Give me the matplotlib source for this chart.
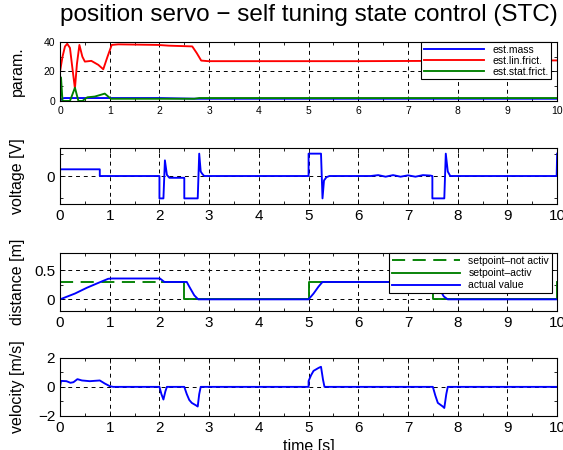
import matplotlib
matplotlib.use("Agg")
import matplotlib.pyplot as plt
from matplotlib.ticker import MultipleLocator, FixedLocator

plt.rcParams['font.family'] = ['Liberation Sans', 'DejaVu Sans']

# ---- data ----
# panel 1: estimated parameters
t_mass = [0.0, 0.05, 0.1, 2.0, 2.8, 10.0]
est_mass = [0.0, 1.8, 2.0, 2.0, 1.5, 1.5]

t_lin = [0.0, 0.05, 0.1, 0.145, 0.2, 0.25, 0.30, 0.34, 0.39, 0.45, 0.5, 0.63, 0.77, 0.87,
         0.955, 1.04, 1.17, 1.97, 2.19, 2.66, 2.75, 2.84, 2.98, 6.0, 10.0]
est_lin = [20.0, 30.0, 37.0, 38.8, 36.0, 22.0, 8.5, 25.0, 38.0, 30.0, 26.7, 27.2, 24.5, 21.5,
           30.0, 38.0, 38.4, 38.0, 37.5, 37.0, 32.5, 27.4, 27.0, 27.0, 27.5]

t_stat = [0.0, 0.02, 0.05, 0.2, 0.3, 0.37, 0.45, 0.55, 0.7, 0.9, 0.97, 1.02, 2.7, 2.8, 10.0]
est_stat = [0.0, 16.0, 0.0, 0.0, 9.0, 0.0, 0.0, 2.5, 3.0, 5.0, 3.0, 1.5, 1.5, 2.0, 2.0]

# panel 2: control voltage
t_volt = [0.0, 0.8, 0.8, 2.0, 2.0, 2.08, 2.11, 2.15, 2.2, 2.5, 2.5, 2.77, 2.80, 2.83, 2.86,
          2.9, 5.0, 5.0, 5.25, 5.28, 5.31, 5.36, 5.42, 6.25, 6.4, 6.55, 6.7, 6.85, 7.0,
          7.15, 7.3, 7.45, 7.49, 7.49, 7.73, 7.76, 7.8, 7.85, 9.99, 10.0]
volt = [3.0, 3.0, 0.0, 0.0, -10.0, -10.0, 7.0, 0.5, -0.8, -0.8, -10.0, -10.0, 10.0, 2.0, 1.0,
        0.0, 0.0, 10.0, 10.0, -10.0, -2.0, -0.5, 0.0, 0.0, 0.4, -0.3, 0.4, -0.3, 0.3,
        -0.3, 0.4, 0.2, 0.0, -10.0, -10.0, 10.0, 2.0, 0.0, 0.0, 10.0]

# panel 3: distance
t_sp_na = [0.0, 2.05]
sp_na = [0.3, 0.3]
t_sp_a = [2.05, 2.5, 2.5, 5.0, 5.0, 7.5, 7.5, 10.0, 10.0]
sp_a = [0.3, 0.3, 0.0, 0.0, 0.3, 0.3, 0.0, 0.0, 0.3]
t_act = [0.0, 0.3, 0.54, 0.8, 0.97, 1.05, 2.01, 2.1, 2.55, 2.6, 2.7, 2.78, 5.0, 5.1, 5.2,
         5.28, 7.55, 7.62, 7.72, 7.8, 10.0]
actual = [0.0, 0.10, 0.20, 0.295, 0.355, 0.36, 0.36, 0.3, 0.3, 0.22, 0.07, 0.0, 0.0, 0.1, 0.22,
          0.3, 0.3, 0.2, 0.05, 0.0, 0.0]

# panel 4: velocity
t_vel = [0.0, 0.02, 0.13, 0.21, 0.27, 0.35, 0.44, 0.6, 0.8, 0.9, 1.0, 1.07, 2.0, 2.04, 2.08,
         2.12, 2.15, 2.5, 2.55, 2.6, 2.65, 2.75, 2.77, 2.8, 2.83, 5.0, 5.0, 5.05, 5.1, 5.2,
         5.25, 5.29, 5.32, 7.5, 7.55, 7.6, 7.7, 7.73, 7.77, 7.8, 10.0]
vel = [0.0, 0.41, 0.39, 0.28, 0.32, 0.53, 0.44, 0.39, 0.44, 0.23, 0.05, 0.0, 0.0, -0.5, -0.87,
       -0.3, 0.0, 0.0, -0.5, -0.9, -1.1, -1.3, -1.35, -0.5, 0.0, 0.0, 0.4, 0.8, 1.1, 1.3,
       1.38, 0.5, 0.0, 0.0, -0.6, -1.1, -1.35, -1.45, -0.5, 0.0, 0.0]

BLUE = '#0000ff'
RED = '#ff0000'
GREEN = '#008000'
LW = 1.35

fig = plt.figure(figsize=(5.63, 4.5), dpi=100)
L, W = 0.1066, 0.883
axes = [
    fig.add_axes([L, 0.7756, W, 0.1311]),
    fig.add_axes([L, 0.5467, W, 0.1243]),
    fig.add_axes([L, 0.3090, W, 0.1288]),
    fig.add_axes([L, 0.0756, W, 0.1294]),
]

def style(ax, fs):
    ax.set_xlim(0, 10)
    ax.xaxis.set_major_locator(MultipleLocator(1))
    ax.xaxis.set_minor_locator(MultipleLocator(0.5))
    ax.tick_params(which='both', direction='in', top=True, right=True, labelsize=fs,
                   width=0.6)
    ax.tick_params(which='major', length=3.5)
    ax.tick_params(which='minor', length=2)
    ax.grid(True, which='major', color='black', linestyle=(0, (4, 4)), linewidth=0.7)
    for s in ax.spines.values():
        s.set_linewidth(0.8)

YLX = -0.07  # ylabel x position in axes coords

# panel 1
ax = axes[0]
ax.plot(t_mass, est_mass, color=BLUE, lw=LW, label='est.mass')
ax.plot(t_lin, est_lin, color=RED, lw=LW, label='est.lin.frict.')
ax.plot(t_stat, est_stat, color=GREEN, lw=LW, label='est.stat.frict.')
ax.set_ylim(0, 40)
ax.set_yticks([0, 20, 40])
ax.yaxis.set_minor_locator(FixedLocator([10, 30]))
style(ax, 7.5)
ax.set_ylabel('param.', fontsize=11.5)
ax.yaxis.set_label_coords(YLX, 0.5)
leg = ax.legend(loc='upper right', fontsize=7.5, frameon=True, fancybox=False,
                edgecolor='black', framealpha=1, handlelength=5.8, borderpad=0.25,
                labelspacing=0.1, borderaxespad=0.0, bbox_to_anchor=(0.988, 1.0))
leg.get_frame().set_linewidth(0.8)

# panel 2
ax = axes[1]
ax.plot(t_volt, volt, color=BLUE, lw=LW)
ax.set_ylim(-12.5, 12.5)
ax.set_yticks([0])
ax.yaxis.set_minor_locator(FixedLocator([-10, 10]))
style(ax, 11)
ax.set_ylabel('voltage [V]', fontsize=11.5)
ax.yaxis.set_label_coords(YLX, 0.5)

# panel 3
ax = axes[2]
ax.plot(t_sp_na, sp_na, color=GREEN, lw=LW, linestyle=(0, (7, 4)), label='setpoint\u2013not activ')
ax.plot(t_sp_a, sp_a, color=GREEN, lw=LW, label='setpoint\u2013activ')
ax.plot(t_act, actual, color=BLUE, lw=LW, label='actual value')
ax.set_ylim(-0.2, 0.8)
ax.set_yticks([0, 0.5])
ax.set_yticklabels(['0', '0.5'])
ax.yaxis.set_minor_locator(FixedLocator([0.25]))
style(ax, 11)
ax.set_ylabel('distance [m]', fontsize=11.5)
ax.yaxis.set_label_coords(YLX, 0.5)
leg = ax.legend(loc='upper right', fontsize=7.5, frameon=True, fancybox=False,
                edgecolor='black', framealpha=1, handlelength=6.5, borderpad=0.3,
                labelspacing=0.2, borderaxespad=0.0, bbox_to_anchor=(0.99, 1.0))
leg.get_frame().set_linewidth(0.8)

# panel 4
ax = axes[3]
ax.plot(t_vel, vel, color=BLUE, lw=LW)
ax.set_ylim(-2, 2)
ax.set_yticks([-2, 0, 2])
ax.set_yticklabels(['\u22122', '0', '2'])
ax.yaxis.set_minor_locator(FixedLocator([-1, 1]))
style(ax, 11)
ax.set_ylabel('velocity [m/s]', fontsize=11.5)
ax.yaxis.set_label_coords(YLX, 0.5)
ax.set_xlabel('time [s]', fontsize=11.5, labelpad=3)

fig.text(0.548, 0.99, 'position servo \u2212 self tuning state control (STC)',
         ha='center', va='top', fontsize=17.5)

fig.savefig('out.png', dpi=100)
